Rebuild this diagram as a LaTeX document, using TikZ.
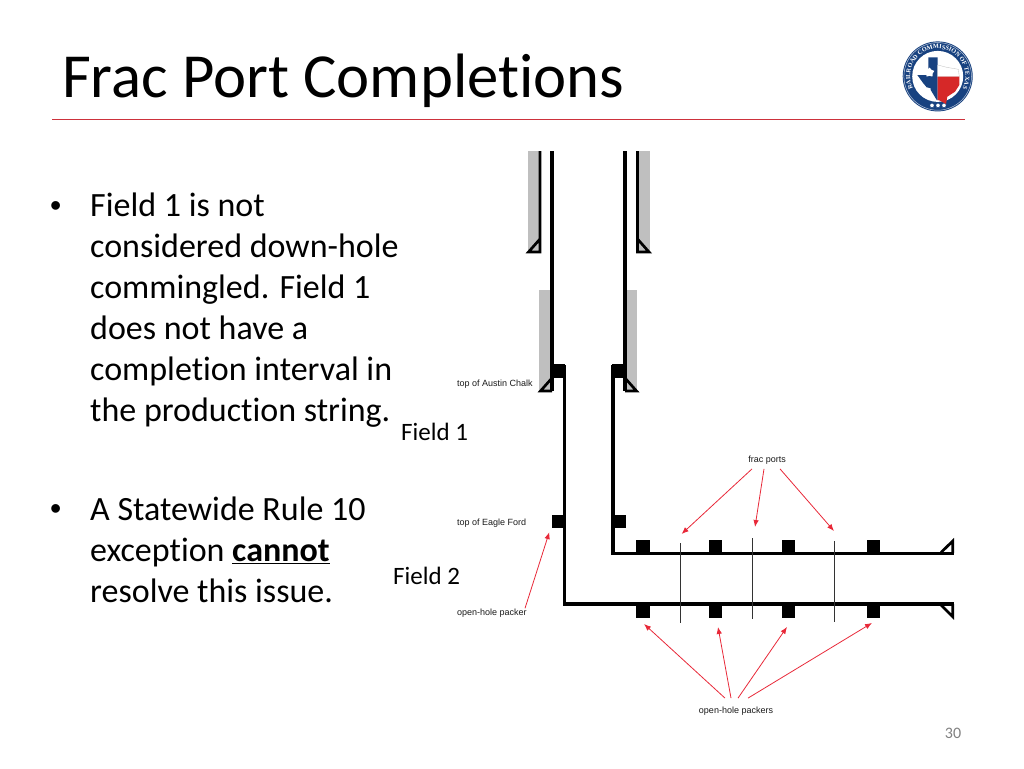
\documentclass[tikz,border=0pt]{standalone}
\usepackage{fontspec}
\setmainfont[Ligatures=NoCommon]{Carlito}
\newfontfamily\labelfont{Liberation Sans}
\newfontfamily\sealfont{Liberation Serif}
\usepackage{tikz}
\usetikzlibrary{arrows.meta}
\usetikzlibrary{shapes.geometric}
\usetikzlibrary{decorations.text}
\definecolor{rulered}{RGB}{205,50,60}
\definecolor{cementgray}{RGB}{191,191,191}
\definecolor{sealblue}{RGB}{24,66,128}
\definecolor{sealred}{RGB}{214,40,40}
\definecolor{calloutred}{RGB}{232,40,56}

\begin{document}
\begin{tikzpicture}[x=1pt,y=-1pt]
		\tikzset{slide title/.style={anchor=base west, inner sep=0pt, font=\fontsize{62.7}{70}\selectfont}}
		\tikzset{body text/.style={anchor=north west, inner sep=0pt, align=left, font=\fontsize{34}{41}\selectfont}}
		\tikzset{bullet mark/.style={anchor=base west, inner sep=0pt, font=\labelfont\fontsize{32}{41}\selectfont}}
		\tikzset{field label/.style={anchor=base west, inner sep=0pt, font=\fontsize{25}{28}\selectfont}}
		\tikzset{well label/.style={inner sep=0pt, text=black!90, font=\labelfont\fontsize{9}{11}\selectfont}}
		\tikzset{packer/.style={fill=black, inner sep=0pt, minimum width=13.5pt, minimum height=13.5pt}}
		\tikzset{pipe/.style={line width=3.7pt, line join=miter}}
		\tikzset{casing/.style={line width=2.7pt, line join=miter}}
		\tikzset{port line/.style={line width=0.7pt, black!80}}
		\tikzset{callout/.style={->, > = {Latex[length=7pt,width=5.5pt]}, calloutred, line width=0.8pt}}
		\useasboundingbox (0,0) rectangle (1024,768);
		%title
		\node[slide title] (title) at (62,97) {Frac Port Completions};
		\fill[rulered] (52,119) rectangle (965,120.4);
		%seal
		\fill[sealblue] (937.7,76.4) circle (35);
		\draw[white!70!sealblue, line width=0.5pt] (937.7,76.4) circle (33.8);
		\fill[white] (937.7,76.4) circle (25.5);
		\fill[sealblue] (928.3,57.3) -- (937.7,57.3) -- (937.7,100) -- (936.7,100) -- (930.7,90) -- (930.7,88.3) -- (926.7,87.3) -- (923.3,83.3) -- (917.3,75) -- (928.3,75) -- cycle;
		\fill[white, draw=black!25, line width=0.3pt] (937.7,65) -- (946.7,67.3) -- (958.3,69.3) -- (959.3,76.7) -- (937.7,76.7) -- cycle;
		\fill[sealred] (937.7,76.7) -- (959.3,76.7) -- (959.3,85) -- (955,91.7) -- (947.3,96.7) -- (946,104) -- (940,100.7) -- (937.7,100) -- cycle;
		\node[star, star points=5, fill=white, inner sep=0pt, minimum size=10pt] (lonestar) at (929.5,72.5) {};
		\foreach \x/\n in {932/a, 938/b, 944/c}
			\node[star, star points=5, fill=white, inner sep=0pt, minimum size=4.5pt] (seal\n) at (\x,105.5) {};
		\path[decorate, decoration={text along path, text align=center, text color=white,
			text={|\sealfont\bfseries\fontsize{6.3}{8}\selectfont|RAILROAD COMMISSION OF TEXAS}}]
			(937.7,76.4) ++(152:27.6) arc[start angle=208, end angle=-28, radius=27.6, y radius=-27.6];
		%bullets
		\node[bullet mark] (bulleta) at (50,216) {•};
		\node[body text] (bodya) at (90,193) {Field 1 is not\\considered down-hole\\commingled. Field 1\\does not have a\\completion interval in\\the production string.};
		\node[bullet mark] (bulletb) at (50,519) {•};
		\node[body text] (bodyb) at (90,497) {A Statewide Rule 10\\exception \underline{\textbf{cannot}}\\resolve this issue.};
		\node[field label] (fielda) at (401,440) {Field 1};
		\node[field label] (fieldb) at (393,584) {Field 2};
		%cement
		\fill[cementgray] (527.7,151) rectangle (540,253);
		\fill[cementgray] (637,151) rectangle (649.7,253);
		\fill[cementgray] (539.3,290) rectangle (552,392);
		\fill[cementgray] (625,290) rectangle (637,392);
		%casing
		\draw[casing] (540,151) -- (540,252) -- (528.5,252) -- (540,239);
		\draw[casing] (637.5,151) -- (637.5,252) -- (649,252) -- (637.5,239);
		\draw[casing] (552,391) -- (540.5,391) -- (552,378);
		\draw[casing] (625,391) -- (636.5,391) -- (625,378);
		%pipes
		\draw[pipe] (552,151) -- (552,391);
		\draw[pipe] (625,151) -- (625,391);
		\draw[pipe] (564.5,365) -- (564.5,604) -- (954,604);
		\draw[pipe] (613,365) -- (613,553.5) -- (954,553.5);
		\draw[casing] (941,552.5) -- (952.7,541) -- (952.7,553);
		\draw[casing] (941,605) -- (952.7,616.7) -- (952.7,604);
		%packers
		\node[packer] (chalkl) at (558.7,371) {};
		\node[packer] (chalkr) at (618.5,371) {};
		\node[packer] (eaglel) at (558.3,521.7) {};
		\node[packer] (eagler) at (619,521.7) {};
		\foreach \n/\x in {a/643, b/715.5, c/788.5, d/873.5} {
			\node[packer] (upper\n) at (\x,546.5) {};
			\node[packer] (lower\n) at (\x,611) {};
		}
		%ports
		\coordinate (porta) at (680,543);
		\coordinate (portb) at (752.7,538);
		\coordinate (portc) at (834,541);
		\draw[port line] (porta) -- (680,623);
		\draw[port line] (portb) -- (752.7,619);
		\draw[port line] (portc) -- (834,622);
		%labels
		\node[well label, anchor=west] (chalk) at (457,383.7) {top of Austin Chalk};
		\node[well label, anchor=west] (eagle) at (457,522.7) {top of Eagle Ford};
		\node[well label, anchor=west] (hole) at (457,612.7) {open-hole packer};
		\node[well label, inner sep=3pt] (fracports) at (767,460.5) {frac ports};
		\node[well label, inner sep=3pt] (holepackers) at (736,711.5) {open-hole packers};
		%arrows
		\draw[callout] ([xshift=-15pt,yshift=-1pt]fracports.south) -- ([xshift=1.6pt,yshift=9pt]porta);
		\draw[callout] ([xshift=-3pt,yshift=-1pt]fracports.south) -- ([xshift=2.3pt,yshift=11pt]portb);
		\draw[callout] ([xshift=13pt,yshift=-1pt]fracports.south) -- ([yshift=10pt]portc);
		\draw[callout] ([xshift=-11pt,yshift=6pt]holepackers.north) -- ([xshift=1pt,yshift=-6pt]lowera.south);
		\draw[callout] ([xshift=-5pt,yshift=6pt]holepackers.north) -- ([xshift=2.5pt,yshift=-9pt]lowerb.south);
		\draw[callout] ([xshift=2pt,yshift=6pt]holepackers.north) -- ([xshift=-1.5pt,yshift=-9pt]lowerc.south);
		\draw[callout] ([xshift=12pt,yshift=6pt]holepackers.north) -- ([xshift=-1.5pt,yshift=-5pt]lowerd.south);
		\draw[callout] ([xshift=68pt]hole.north west) -- ([xshift=-9pt,yshift=-3.5pt]eaglel.south);
		%page number
		\node[inner sep=0pt, text=black!50, font=\fontsize{16}{18}\selectfont] (pagenum) at (953,733) {30};
\end{tikzpicture}
\end{document}
